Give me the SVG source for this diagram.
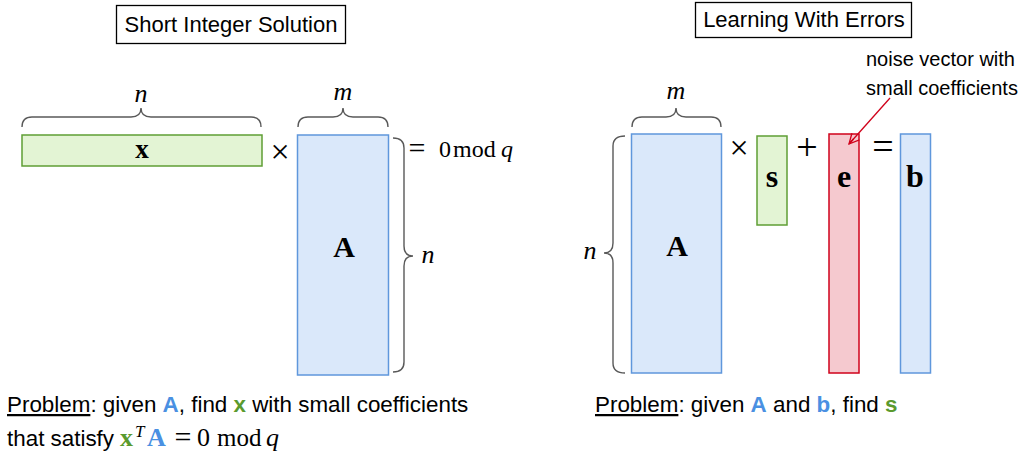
<svg xmlns="http://www.w3.org/2000/svg" width="1023" height="457" viewBox="0 0 1023 457">
  <defs>
    <style>
      .sans { font-family: "Liberation Sans", Arial, sans-serif; fill: #000; }
      .math { font-family: "Liberation Serif", "Times New Roman", serif; fill: #000; }
      .mathb { font-family: "Liberation Serif", "Times New Roman", serif; font-weight: bold; fill: #000; }
      .it { font-style: italic; }
      .title { fill: #fff; stroke: #000; stroke-width: 1.3; }
      .green { fill: #e3f4d4; stroke: #5f9e35; stroke-width: 1.5; }
      .blue { fill: #dae8fa; stroke: #5f97dc; stroke-width: 1.5; }
      .red { fill: #f5c9cf; stroke: #d0021b; stroke-width: 1.5; }
      .brace { fill: none; stroke: #595959; stroke-width: 1.4; }
      .cb { fill: #4a90e2; font-weight: bold; }
      .cg { fill: #5a9a2e; font-weight: bold; }
    </style>
    <marker id="openArrow" viewBox="0 0 12 12" refX="11" refY="6" markerWidth="12" markerHeight="12" markerUnits="userSpaceOnUse" orient="auto">
      <path d="M1,1 L11,6 L1,11 M11,6 L4,6" fill="none" stroke="#d0021b" stroke-width="1.3"/>
    </marker>
  </defs>

  <rect width="1023" height="457" fill="#fff"/>

  <!-- Short Integer Solution -->
  <g id="sis-title">
    <rect class="title" x="116.5" y="5.5" width="229" height="38"/>
    <text class="sans" x="231" y="32" font-size="22" text-anchor="middle">Short Integer Solution</text>
  </g>

  <g id="sis-x">
    <rect class="green" x="22" y="135" width="240" height="31"/>
    <text class="mathb" x="142" y="158" font-size="27" text-anchor="middle">x</text>
  </g>

  <g id="sis-times">
    <text class="math" x="280" y="163" font-size="34" text-anchor="middle">×</text>
  </g>

  <g id="sis-A">
    <rect class="blue" x="297.5" y="135" width="91" height="240"/>
    <text class="mathb" x="344" y="257" font-size="30" text-anchor="middle">A</text>
  </g>

  <g id="sis-result">
    <text class="math" x="417" y="158" font-size="30" text-anchor="middle">=</text>
    <text class="math" x="439" y="157" font-size="24">0</text>
    <text class="math" x="453" y="157" font-size="24">mod</text>
    <text class="math it" x="501" y="157" font-size="24">q</text>
  </g>

  <g id="sis-braces">
    <path class="brace" d="M22,127 Q22,117 32,117 L131,117 Q141,117 141,108 Q141,117 151,117 L251,117 Q261,117 261,127"/>
    <text class="math it" x="141" y="102" font-size="26" text-anchor="middle">n</text>
    <path class="brace" d="M298,127 Q298,117 308,117 L333,117 Q343,117 343,108 Q343,117 353,117 L378,117 Q388,117 388,127"/>
    <text class="math it" x="343" y="100" font-size="26" text-anchor="middle">m</text>
    <path class="brace" d="M393,138 Q404,138 404,148 L404,246 Q404,256 413,256 Q404,256 404,266 L404,362 Q404,372 393,372"/>
    <text class="math it" x="428" y="263" font-size="26" text-anchor="middle">n</text>
  </g>

  <g id="sis-problem">
    <text class="sans" x="7" y="412" font-size="22.4"><tspan text-decoration="underline">Problem</tspan>: given <tspan class="cb">A</tspan>, find <tspan class="cg">x</tspan> with small coefficients</text>
    <text class="sans" x="7" y="446" font-size="22.4">that satisfy</text>
    <text class="mathb" x="120" y="446" font-size="26" style="fill:#5a9a2e">x</text>
    <text class="math it" x="135" y="437" font-size="17">T</text>
    <text class="mathb" x="147" y="446" font-size="26" style="fill:#4a90e2">A</text>
    <text class="math" x="183" y="447" font-size="30" text-anchor="middle">=</text>
    <text class="math" x="197" y="446" font-size="26">0</text>
    <text class="math" x="217" y="446" font-size="25">mod</text>
    <text class="math it" x="266" y="446" font-size="26">q</text>
  </g>

  <!-- Learning With Errors -->
  <g id="lwe-title">
    <rect class="title" x="695.5" y="2.5" width="216" height="35"/>
    <text class="sans" x="804" y="27" font-size="22" text-anchor="middle">Learning With Errors</text>
  </g>

  <g id="lwe-A">
    <rect class="blue" x="631.5" y="134" width="90" height="239"/>
    <text class="mathb" x="677" y="256" font-size="30" text-anchor="middle">A</text>
  </g>

  <g id="lwe-times">
    <text class="math" x="739" y="159" font-size="34" text-anchor="middle">×</text>
  </g>

  <g id="lwe-s">
    <rect class="green" x="757" y="136" width="30" height="89"/>
    <text class="mathb" x="772" y="187" font-size="32" text-anchor="middle">s</text>
  </g>

  <g id="lwe-plus">
    <text class="math" x="807" y="160" font-size="38" text-anchor="middle">+</text>
  </g>

  <g id="lwe-e">
    <rect class="red" x="829" y="134" width="30" height="239"/>
    <text class="mathb" x="844" y="187" font-size="32" text-anchor="middle">e</text>
  </g>

  <g id="lwe-equals">
    <text class="math" x="883" y="159" font-size="38" text-anchor="middle">=</text>
  </g>

  <g id="lwe-b">
    <rect class="blue" x="900.5" y="134" width="30" height="239"/>
    <text class="mathb" x="915" y="187" font-size="32" text-anchor="middle">b</text>
  </g>

  <g id="lwe-noise-note">
    <text class="sans" x="866" y="66" font-size="20">noise vector with</text>
    <text class="sans" x="866" y="95" font-size="20">small coefficients</text>
  </g>

  <g id="lwe-braces">
    <path class="brace" d="M632,127 Q632,117 642,117 L666,117 Q676,117 676,108 Q676,117 686,117 L711,117 Q721,117 721,127"/>
    <text class="math it" x="676" y="99" font-size="26" text-anchor="middle">m</text>
    <path class="brace" d="M625,136 Q613,136 613,146 L613,243 Q613,253 604,253 Q613,253 613,263 L613,363 Q613,373 625,373"/>
    <text class="math it" x="590" y="259" font-size="26" text-anchor="middle">n</text>
  </g>

  <g id="connectors">
    <line x1="890" y1="98" x2="849" y2="144" stroke="#d0021b" stroke-width="1.3" marker-end="url(#openArrow)"/>
  </g>

  <g id="lwe-problem">
    <text class="sans" x="595" y="412" font-size="22.4"><tspan text-decoration="underline">Problem</tspan>: given <tspan class="cb">A</tspan> and <tspan class="cb">b</tspan>, find <tspan class="cg">s</tspan></text>
  </g>
</svg>
